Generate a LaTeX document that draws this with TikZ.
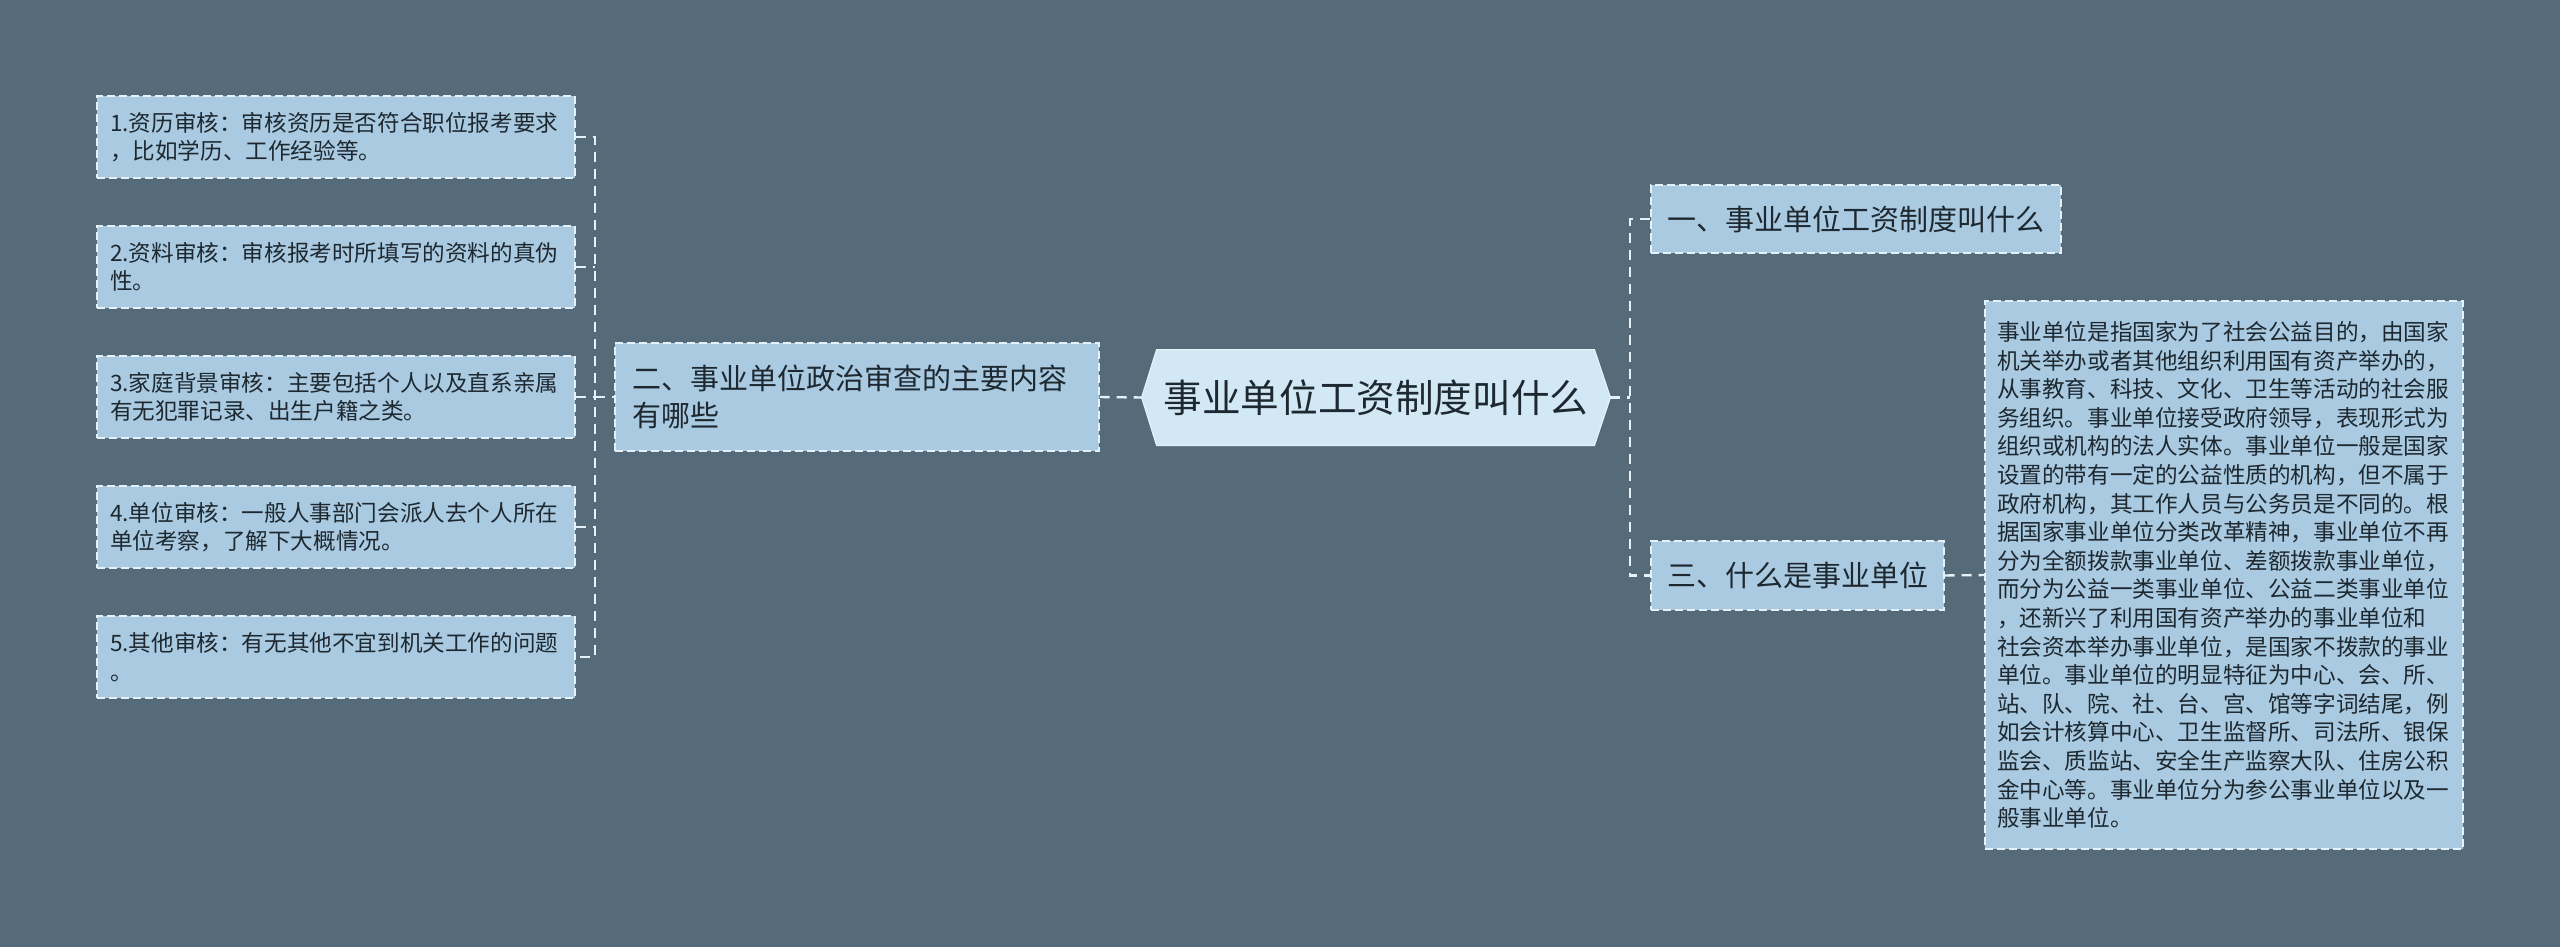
\documentclass[tikz,border=0pt]{standalone}
\usepackage{fontspec}
\setmainfont{Noto Sans CJK SC}
\usetikzlibrary{backgrounds}
\definecolor{bg}{HTML}{566B7A}
\definecolor{boxfill}{HTML}{A9CAE0}
\definecolor{cfill}{HTML}{D2E8F4}
\definecolor{ink}{HTML}{1E2830}
\definecolor{edge}{HTML}{E4F1F8}
\begin{document}
\begin{tikzpicture}[x=0.5pt,y=-0.5pt,
  smallbox/.style={fill=boxfill, draw=edge, line width=0.6pt, dash pattern=on 4pt off 2pt,
    text=ink, font=\fontsize{11.3pt}{14.3pt}\selectfont, align=left, inner ysep=0pt},
  leftbox/.style={smallbox, text width=226pt, inner xsep=6.5pt, minimum height=41pt},
  midbox/.style={smallbox, font=\fontsize{14.5pt}{18.75pt}\selectfont, inner xsep=8pt},
  conn/.style={draw=edge, line width=1.2pt, dash pattern=on 5pt off 3.5pt}]
\useasboundingbox (0,0) rectangle (2560,947);
% left leaves
\node[leftbox] (b1) at (336,137) {1.资历审核：审核资历是否符合职位报考要求\\，比如学历、工作经验等。};
\node[leftbox] (b2) at (336,267) {2.资料审核：审核报考时所填写的资料的真伪\\性。};
\node[leftbox] (b3) at (336,397) {3.家庭背景审核：主要包括个人以及直系亲属\\有无犯罪记录、出生户籍之类。};
\node[leftbox] (b4) at (336,527) {4.单位审核：一般人事部门会派人去个人所在\\单位考察，了解下大概情况。};
\node[leftbox] (b5) at (336,657) {5.其他审核：有无其他不宜到机关工作的问题\\。};
% second-level nodes
\node[midbox, text width=225pt, inner xsep=8.5pt, minimum height=54pt] (two) at (857,397) {二、事业单位政治审查的主要内容\\有哪些};
\node[midbox, text width=189pt, minimum height=34pt] (one) at (1856,219) {一、事业单位工资制度叫什么};
\node[midbox, text width=130.5pt, minimum height=34.5pt] (three) at (1797.5,575.5) {三、什么是事业单位};
% big leaf
\node[smallbox, text width=227pt, inner xsep=6pt, minimum height=274pt] (big) at (2224,575) {事业单位是指国家为了社会公益目的，由国家\\机关举办或者其他组织利用国有资产举办的，\\从事教育、科技、文化、卫生等活动的社会服\\务组织。事业单位接受政府领导，表现形式为\\组织或机构的法人实体。事业单位一般是国家\\设置的带有一定的公益性质的机构，但不属于\\政府机构，其工作人员与公务员是不同的。根\\据国家事业单位分类改革精神，事业单位不再\\分为全额拨款事业单位、差额拨款事业单位，\\而分为公益一类事业单位、公益二类事业单位\\，还新兴了利用国有资产举办的事业单位和\\社会资本举办事业单位，是国家不拨款的事业\\单位。事业单位的明显特征为中心、会、所、\\站、队、院、社、台、宫、馆等字词结尾，例\\如会计核算中心、卫生监督所、司法所、银保\\监会、质监站、安全生产监察大队、住房公积\\金中心等。事业单位分为参公事业单位以及一\\般事业单位。};
% central node
\node[text=ink, font=\fontsize{19.3pt}{23pt}\selectfont, minimum width=234pt, minimum height=47.5pt, inner sep=0pt] (c) at (1376,397.5) {事业单位工资制度叫什么};
% trunks
\coordinate (tL) at (595,397);
\coordinate (tR) at (1630,397.5);
% connectors left
\draw[conn] (b1.east) -- (b1.east -| tL) -- (b5.east -| tL) -- (b5.east);
\draw[conn] (b2.east) -- (b2.east -| tL);
\draw[conn] (b3.east) -- (b3.east -| tL);
\draw[conn] (b4.east) -- (b4.east -| tL);
\draw[conn] (tL) -- (two.west);
\draw[conn] (two.east) -- (c.west);
% connectors right
\draw[conn] (c.east) -- (tR);
\draw[conn] (one.west) -- (one.west -| tR) -- (three.west -| tR) -- (three.west);
\draw[conn] (three.east) -- (big.west);
\begin{scope}[on background layer]
\fill[bg] (0,0) rectangle (2560,947);
\filldraw[fill=cfill, draw=edge, line width=0.6pt] (c.west) -- ([xshift=7.5pt]c.north west) -- ([xshift=-8pt]c.north east) -- (c.east) -- ([xshift=-8pt]c.south east) -- ([xshift=7.5pt]c.south west) -- cycle;
\end{scope}
\end{tikzpicture}
\end{document}
